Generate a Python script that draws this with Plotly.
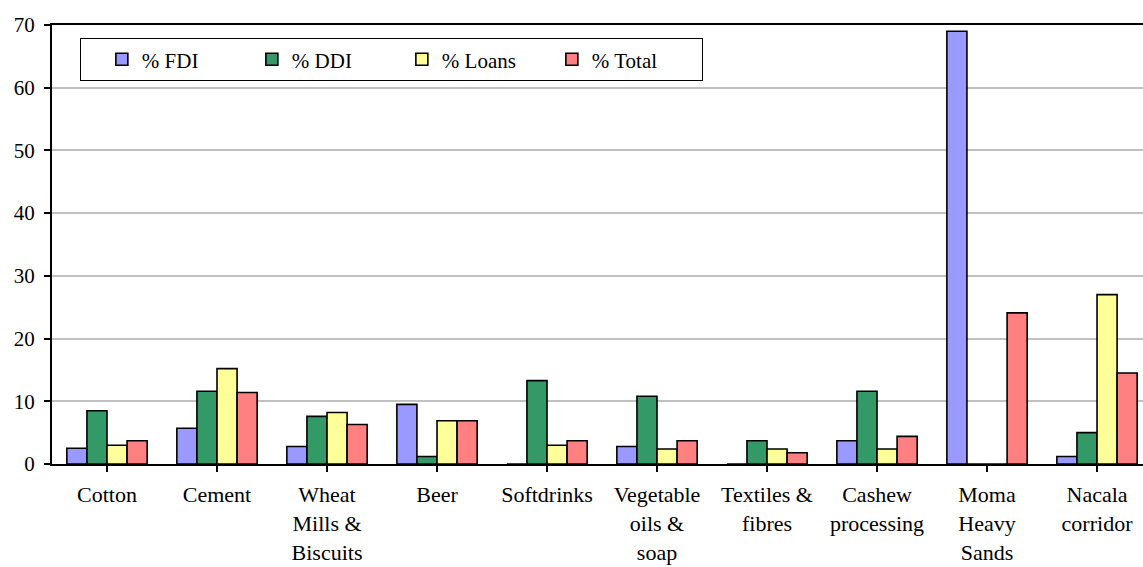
import plotly.graph_objects as go

# Sector shares of investment (%)
categories = ["Cotton", "Cement", "Wheat<br>Mills &<br>Biscuits", "Beer", "Softdrinks",
              "Vegetable<br>oils &<br>soap", "Textiles &<br>fibres", "Cashew<br>processing",
              "Moma<br>Heavy<br>Sands", "Nacala<br>corridor"]
fdi = [2.5, 5.7, 2.8, 9.5, 0, 2.8, 0, 3.7, 69.0, 1.2]
ddi = [8.5, 11.6, 7.6, 1.2, 13.3, 10.8, 3.7, 11.6, 0, 5.0]
loans = [3.0, 15.2, 8.2, 6.9, 3.0, 2.4, 2.4, 2.4, 0, 27.0]
total = [3.7, 11.4, 6.3, 6.9, 3.7, 3.7, 1.8, 4.4, 24.1, 14.5]
y_ticks = [0, 10, 20, 30, 40, 50, 60, 70]

series = [
    ("% FDI", fdi, "#9999FF"),
    ("% DDI", ddi, "#339966"),
    ("% Loans", loans, "#FFFF99"),
    ("% Total", total, "#FF8080"),
]

x_pos = list(range(len(categories)))

fig = go.Figure()
for name, vals, color in series:
    fig.add_trace(go.Bar(
        x=x_pos, y=vals, name=name,
        marker=dict(color=color, line=dict(color="black", width=1.6)),
    ))

serif = "Liberation Serif"

fig.update_layout(
    width=1143, height=567,
    margin=dict(l=52, r=0, t=25, b=103),
    paper_bgcolor="white", plot_bgcolor="white",
    barmode="group", bargap=0.27, bargroupgap=0,
    font=dict(family=serif, size=21, color="black"),
    showlegend=True,
    legend=dict(
        orientation="h", x=0.026, y=0.97, xanchor="left", yanchor="top",
        bordercolor="black", borderwidth=1, bgcolor="white",
        font=dict(family=serif, size=21, color="black"),
        entrywidth=105, entrywidthmode="pixels",
        traceorder="normal",
        title=dict(text="&nbsp;&nbsp;", side="left",
                   font=dict(family=serif, size=21)),
    ),
)

fig.update_xaxes(
    range=[-0.5, 9.418],
    tickmode="array", tickvals=x_pos, ticktext=categories,
    tickson="boundaries", ticks="outside", ticklen=6, tickcolor="black", tickwidth=1.5,
    ticklabelstandoff=4,
    showline=True, linecolor="black", linewidth=2, mirror=True,
    showgrid=False, zeroline=False,
    tickfont=dict(family=serif, size=22, color="black"),
    tickangle=0,
)

fig.update_yaxes(
    range=[0, 70],
    tickmode="array", tickvals=y_ticks,
    ticks="outside", ticklen=6, tickcolor="black", tickwidth=1.5,
    ticklabelstandoff=5,
    showline=True, linecolor="black", linewidth=2,
    showgrid=True, gridcolor="#C0C0C0", gridwidth=1.5,
    zeroline=False,
    tickfont=dict(family=serif, size=21, color="black"),
)

fig.write_html("out.html")
